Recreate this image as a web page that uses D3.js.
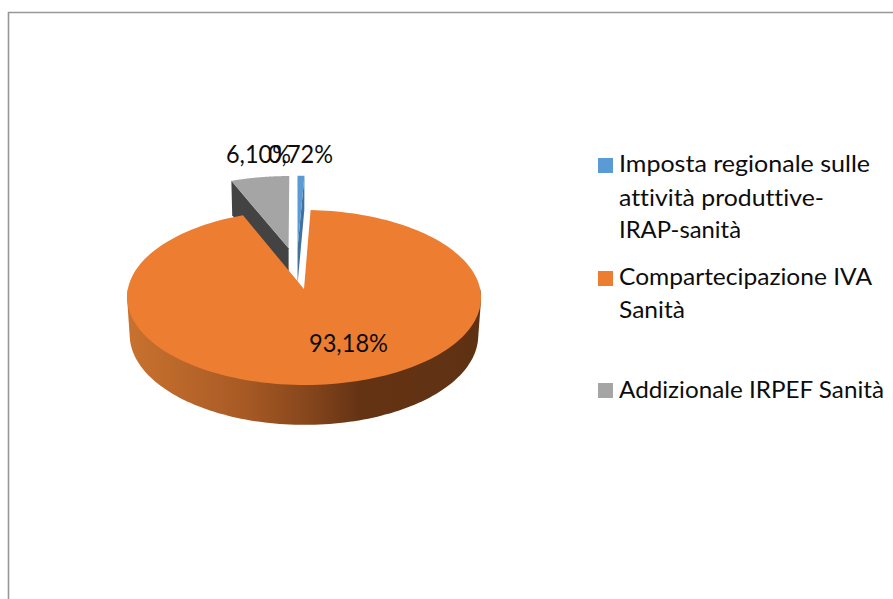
<!DOCTYPE html>
<html>
<head>
<meta charset="utf-8">
<title>Entrate sanità</title>
<script src="https://cdn.jsdelivr.net/npm/d3@7"></script>
<style>
    html, body { margin: 0; padding: 0; background: #fff; overflow: hidden; }
    svg { display: block; }
    text { font-family: Lato, "Open Sans", sans-serif; fill: #0d0d0d; font-variant-ligatures: none; }
</style>
</head>
<body>
<div id="chart"></div>
<script>
const categories = ['Imposta regionale sulle attività produttive-IRAP-sanità', 'Compartecipazione IVA Sanità', 'Addizionale IRPEF Sanità'];
const shares = [0.72, 93.18, 6.10];
const shareLabels = ['0,72%', '93,18%', '6,10%'];
const legendLines = [
    ['Imposta regionale sulle', 'attività produttive-', 'IRAP-sanità'],
    ['Compartecipazione IVA', 'Sanità'],
    ['Addizionale IRPEF Sanità']
];
const colors = ['#5b9bd5', '#ed7d31', '#a5a5a5'];
const sideColors = ['#41719c', null, '#434343'];

const width = 893;
const height = 599;

// perspective of the tilted pie, fitted on the picture
const view = { x0: 296.6, y0: 268.1, rx: 172, ry: 82.67, k: 0.095, drop: 37.5, shrink: 0.015 };
const explode = 0.25;

function project(px, pz, low) {
    const s = 1 / (1 + view.k * pz + (low ? view.shrink : 0));
    return [view.x0 + view.rx * px * s, view.y0 - (view.ry * pz - (low ? view.drop : 0)) * s];
}

const slices = d3.pie().sort(null).value(d => d)(shares);
const line = d3.line();

function center(d) {
    const mid = (d.startAngle + d.endAngle) / 2;
    return [explode * Math.sin(mid), explode * Math.cos(mid)];
}

function rim(d, a, low) {
    const c = center(d);
    return project(c[0] + Math.sin(a), c[1] + Math.cos(a), low);
}

function topPath(d) {
    const c = center(d);
    const pts = [project(c[0], c[1], false)];
    d3.range(0, 181).forEach(i => {
        pts.push(rim(d, d.startAngle + (d.endAngle - d.startAngle) * i / 180, false));
    });
    return line(pts) + 'Z';
}

// flat cut face on one radius of a slice
function facePath(d, a) {
    const c = center(d);
    return line([
        project(c[0], c[1], false),
        rim(d, a, false),
        rim(d, a, true),
        project(c[0], c[1], true)
    ]) + 'Z';
}

// round outer wall: hull of the upper and lower rim, the top is painted over it
function wallPath(d) {
    const angles = d3.range(0, 240).map(i => i * Math.PI * 2 / 240);
    const pts = angles.map(a => rim(d, a, false)).concat(angles.map(a => rim(d, a, true)));
    return line(d3.polygonHull(pts)) + 'Z';
}

const svg = d3.select('#chart')
    .append('svg')
    .attr('width', width)
    .attr('height', height);

const defs = svg.append('defs');

const wallGrad = defs.append('linearGradient')
    .attr('id', 'orange-wall')
    .attr('gradientUnits', 'userSpaceOnUse')
    .attr('x1', 127).attr('x2', 481).attr('y1', 0).attr('y2', 0);
[[0, '#c9722f'], [0.33, '#a85a25'], [0.52, '#84451b'], [0.66, '#643314'], [1, '#5f3113']].forEach(s => {
    wallGrad.append('stop').attr('offset', s[0]).attr('stop-color', s[1]);
});

// frame
svg.append('path')
    .attr('d', line([[8.5, height], [8.5, 12.5], [width, 12.5]]))
    .attr('fill', 'none')
    .attr('stroke', '#979797')
    .attr('stroke-width', 1.6);

const pie = svg.append('g');

// grey first, it sits behind the others
pie.append('path').attr('d', facePath(slices[2], slices[2].startAngle)).attr('fill', sideColors[2]);
pie.append('path').attr('d', topPath(slices[2])).attr('fill', colors[2]);

pie.append('path').attr('d', facePath(slices[0], slices[0].endAngle)).attr('fill', sideColors[0]);
pie.append('path').attr('d', topPath(slices[0])).attr('fill', colors[0]);

// the hull also fills the notch, so clip the wall to the lower half of the orange
const wallClip = defs.append('clipPath').attr('id', 'wall-clip');
wallClip.append('rect')
    .attr('x', 0)
    .attr('y', rim(slices[1], Math.PI / 2, false)[1])
    .attr('width', width)
    .attr('height', height);

pie.append('path')
    .attr('d', wallPath(slices[1]))
    .attr('fill', 'url(#orange-wall)')
    .attr('clip-path', 'url(#wall-clip)');
pie.append('path').attr('d', topPath(slices[1])).attr('fill', colors[1]);

// data labels, squeezed to the width of the original narrow face
const labelLayout = [
    { x: 268, y: 163, w: 65 },
    { x: 309, y: 352, w: 79 },
    { x: 226, y: 163, w: 65 }
];
svg.append('g')
    .selectAll('text')
    .data(shareLabels)
    .enter()
    .append('text')
    .attr('x', (d, i) => labelLayout[i].x)
    .attr('y', (d, i) => labelLayout[i].y)
    .attr('font-size', 24.5)
    .attr('textLength', (d, i) => labelLayout[i].w)
    .attr('lengthAdjust', 'spacingAndGlyphs')
    .text(d => d);

// legend
const legendLayout = [
    { box: 158, base: [172, 206, 238], w: [251, 205, 122] },
    { box: 271, base: [285, 318], w: [253, 66] },
    { box: 383, base: [398], w: [265] }
];
const legend = svg.append('g')
    .selectAll('g')
    .data(categories)
    .enter()
    .append('g');

legend.append('rect')
    .attr('x', 598)
    .attr('y', (d, i) => legendLayout[i].box)
    .attr('width', 15)
    .attr('height', 15)
    .attr('fill', (d, i) => colors[i]);

legend.each(function (d, i) {
    d3.select(this).selectAll('text')
        .data(legendLines[i])
        .enter()
        .append('text')
        .attr('x', 619)
        .attr('y', (t, j) => legendLayout[i].base[j])
        .attr('font-size', 24)
        .attr('textLength', (t, j) => legendLayout[i].w[j])
        .attr('lengthAdjust', 'spacingAndGlyphs')
        .text(t => t);
});
</script>
</body>
</html>
